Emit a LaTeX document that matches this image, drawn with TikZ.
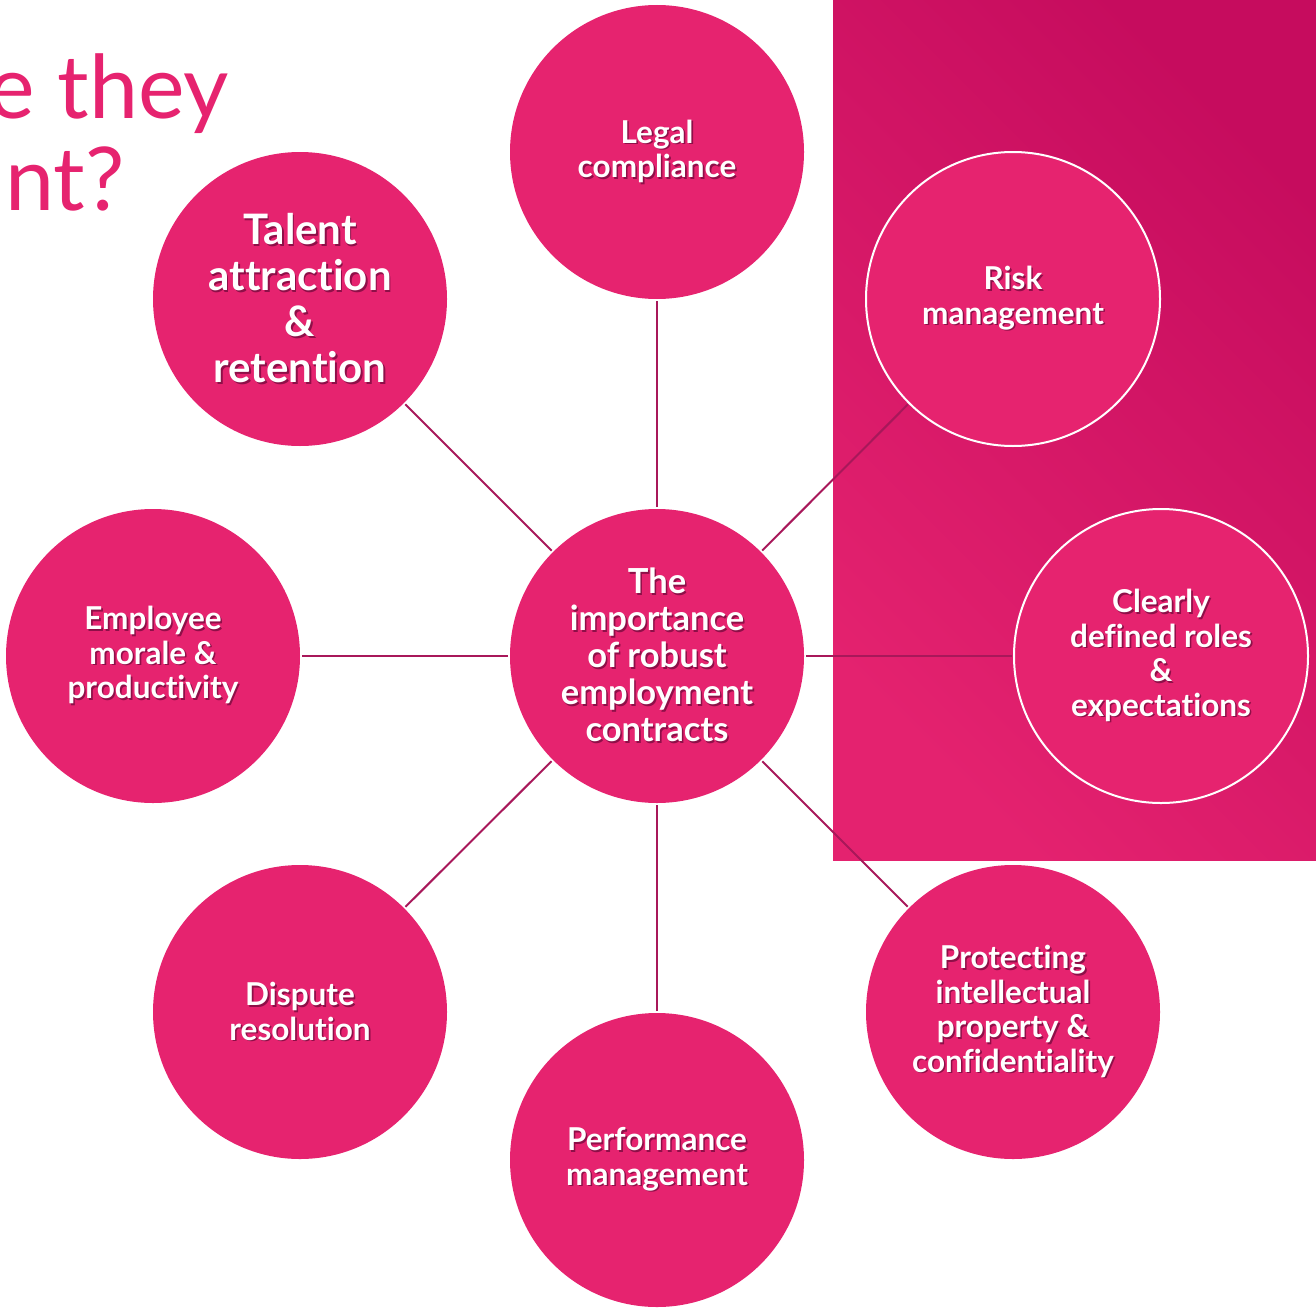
\documentclass[tikz,border=0pt]{standalone}
\usepackage{fontspec}
\setmainfont{Lato}[Ligatures=NoCommon]
\definecolor{bubble}{HTML}{E6236F}
\definecolor{panellight}{HTML}{E4226F}
\definecolor{paneldark}{HTML}{C60C5E}
\definecolor{spokecol}{HTML}{A8185A}
\definecolor{textshadow}{HTML}{8E0F48}
\newcommand{\shd}[1]{\leavevmode\rlap{\kern1.6pt\raisebox{-1.6pt}{\color{textshadow}#1}}#1}
\tikzset{
  bubble/.style={circle, fill=bubble, minimum size=294pt, inner sep=0pt, outer sep=2pt,
    text=white, align=center, font=\bfseries\fontsize{31.5}{34.5}\selectfont},
  framed/.style={bubble, draw=white, line width=2pt},
  spoke/.style={draw=spokecol, line width=2pt}
}
\begin{document}
\begin{tikzpicture}[x=1pt,y={(0pt,-1pt)}]
\useasboundingbox (0,0) rectangle (1316,1311);

% panel on the right
\shade[top color=paneldark, bottom color=panellight, shading angle=-45] (833,0) rectangle (1316,860);

% title, cut by the page edge
\node[anchor=base east, text=bubble, font=\fontsize{88}{92}\selectfont, inner sep=0pt] (title1) at (229,118) {e they};
\node[anchor=base east, text=bubble, font=\fontsize{88}{92}\selectfont, inner sep=0pt] (title2) at (125,210) {nt?};

\node[bubble, font=\bfseries\fontsize{34.5}{37}\selectfont] (core) at (657,656) {\shd{The}\\\shd{importance}\\\shd{of robust}\\\shd{employment}\\\shd{contracts}};

\node[bubble] (legal) at (657,152) {\shd{Legal}\\\shd{compliance}};
\node[framed] (risk) at (1013,299) {\shd{Risk}\\\shd{management}};
\node[framed] (roles) at (1161,656) {\shd{Clearly}\\\shd{defined roles}\\\shd{\&}\\\shd{expectations}};
\node[bubble] (ip) at (1013,1012) {\shd{Protecting}\\\shd{intellectual}\\\shd{property \&}\\\shd{confidentiality}};
\node[bubble] (perf) at (657,1160) {\shd{Performance}\\\shd{management}};
\node[bubble] (dispute) at (300,1012) {\shd{Dispute}\\\shd{resolution}};
\node[bubble] (morale) at (153,656) {\shd{Employee}\\\shd{morale \&}\\\shd{productivity}};
\node[bubble, font=\bfseries\fontsize{42}{46}\selectfont] (talent) at (300,299) {\shd{Talent}\\\shd{attraction}\\\shd{\&}\\\shd{retention}};

\draw[spoke] (core) -- (legal);
\draw[spoke] (core) -- (risk);
\draw[spoke] (core) -- (roles);
\draw[spoke] (core) -- (ip);
\draw[spoke] (core) -- (perf);
\draw[spoke] (core) -- (dispute);
\draw[spoke] (core) -- (morale);
\draw[spoke] (core) -- (talent);
\end{tikzpicture}
\end{document}
